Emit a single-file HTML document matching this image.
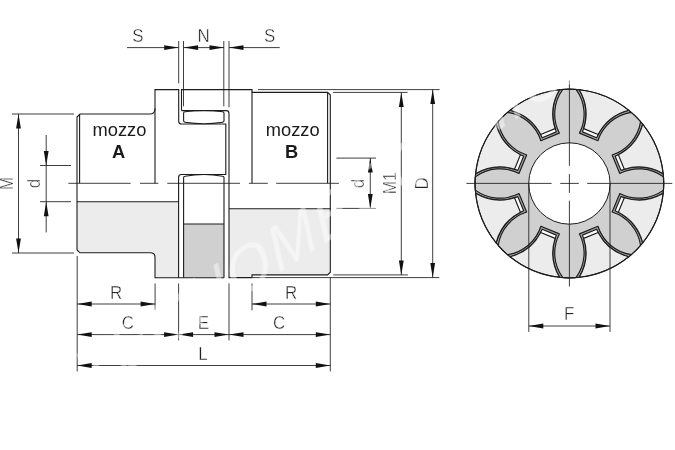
<!DOCTYPE html>
<html><head><meta charset="utf-8"><title>Giunto</title>
<style>
html,body{margin:0;padding:0;background:#fff;}
body{width:675px;height:450px;overflow:hidden;}
svg{display:block;}
text{font-family:"Liberation Sans",sans-serif;fill:#222;}
.dim{font-size:18.2px;stroke:#fff;stroke-width:0.42px;}
.lbl{font-size:18.3px;fill:#1a1a1a;}
.b{font-weight:bold;}
.o{fill:none;stroke:#1c1c1c;stroke-width:1.1;}
.t{fill:none;stroke:#1c1c1c;stroke-width:0.85;}
.ar{fill:#111;stroke:none;}
</style></head><body>
<svg width="675" height="450" viewBox="0 0 675 450">
<rect width="675" height="450" fill="#fff"/>
<!-- ===== section view fills ===== -->
<path d="M77,201.8 H178.6 V277.7 H155 V257.3 Q155,252.8 150.5,252.8 H80 L77,250 Z" fill="#ececec"/>
<path d="M229,208.7 H330.3 V272.2 L327.6,274.9 H252 V277.6 H229 Z" fill="#ececec"/>
<rect x="183.6" y="224" width="40.4" height="53.7" fill="#d0d0d0"/>
<!-- ===== section view outlines ===== -->
<g class="o">
<!-- hub A -->
<path d="M77,250 V117 L80,114 H150 Q155,114 155,108.5"/>
<path d="M79.6,114 V183.3"/>
<path d="M155,183.3 V89.6 H178.7 V121.2 Q178.7,124 181.5,124 H225.8 V174.5 H181.4 Q178.6,174.5 178.6,177.3 V277.7"/>
<path d="M77,201.8 H178.6"/>
<path d="M77,250 L80,252.8 H150.5 Q155,252.8 155,257.3 V277.7 H224"/>
<!-- spider -->
<path d="M183.6,113.2 Q183.6,112 185,111.8 Q204,109.2 222.6,111.8 Q224,112 224,113.2 V120.8 Q224,122 222.6,122.2 Q204,125.2 185,122.2 Q183.6,122 183.6,120.8 Z" fill="#fff"/>
<path d="M183.6,277.7 V177.6 Q183.6,176.5 185,176.3 Q204,172.8 222.6,176.3 Q224,176.5 224,177.6 V277.7"/>
<path d="M183.6,224 H224"/>
<!-- hub B -->
<path d="M181.5,110.6 V89.6 H252 V92.4"/>
<path d="M181.5,110.6 H226.3 Q229,110.6 229,113.4 V277.6 H252"/>
<path d="M252,183.3 V92.4 H327.6 L330.3,95.1 V272.2 L327.6,274.9 H252 V277.6"/>
<path d="M327.6,92.4 V183.3"/>
<path d="M229,208.7 H330.3"/>
</g>
<!-- ===== thin lines: centre lines, extension & dimension lines ===== -->
<g class="t">
<!-- centre line section -->
<path d="M68.4,183.3 H130.7 M140,183.3 H158.4 M167.3,183.3 H240 M248.9,183.3 H267.8 M276.2,183.3 H338.9"/>
<!-- S N S -->
<path d="M178.7,41 V83.3 M183.5,41 V106.3 M223.8,41 V106.3 M229,41 V107.3"/>
<path d="M127,47.6 H178.7 M183.6,47.6 H224 M229,47.6 H279.7"/>
<!-- M -->
<path d="M12,114 H74 M12,253 H74 M18.5,114 V253"/>
<!-- d left -->
<path d="M40,165.5 H71 M40,201.7 H71 M46.2,135 V232.4"/>
<!-- d right -->
<path d="M336.4,158.1 H376 M336.4,208.4 H376 M370.3,158.1 V208.4"/>
<!-- M1 -->
<path d="M333,92.4 H407.6 M333.3,274.9 H407.8 M401.3,92.4 V274.9"/>
<!-- D -->
<path d="M258,89.6 H439.6 M252,277.6 H439.3 M432.7,89.6 V277.6"/>
<!-- bottom ext lines -->
<path d="M77.2,256 V371.5 M155.1,283.5 V310.2 M178.6,283.5 V340.4 M229,283.5 V340.4 M252,283.5 V310.2 M330.3,277.6 V371.5"/>
<path d="M77.2,304 H155.1 M252,304 H330.3 M77.2,334.6 H330.3 M77.2,365.5 H330.3"/>
</g>
<!-- ===== face view ===== -->
<circle cx="569.4" cy="183.5" r="94.3" fill="#fff" stroke="none"/>
<path d="M559.53,89.72 A94.3,94.3 0 0 1 579.27,89.72 A48.0,48.0 0 0 1 582.53,131.90 L596.61,137.73 A48.0,48.0 0 0 1 628.73,110.20 A94.3,94.3 0 0 1 642.70,124.17 A48.0,48.0 0 0 1 615.17,156.29 L621.00,170.37 A48.0,48.0 0 0 1 663.18,173.63 A94.3,94.3 0 0 1 663.18,193.37 A48.0,48.0 0 0 1 621.00,196.63 L615.17,210.71 A48.0,48.0 0 0 1 642.70,242.83 A94.3,94.3 0 0 1 628.73,256.80 A48.0,48.0 0 0 1 596.61,229.27 L582.53,235.10 A48.0,48.0 0 0 1 579.27,277.28 A94.3,94.3 0 0 1 559.53,277.28 A48.0,48.0 0 0 1 556.27,235.10 L542.19,229.27 A48.0,48.0 0 0 1 510.07,256.80 A94.3,94.3 0 0 1 496.10,242.83 A48.0,48.0 0 0 1 523.63,210.71 L517.80,196.63 A48.0,48.0 0 0 1 475.62,193.37 A94.3,94.3 0 0 1 475.62,173.63 A48.0,48.0 0 0 1 517.80,170.37 L523.63,156.29 A48.0,48.0 0 0 1 496.10,124.17 A94.3,94.3 0 0 1 510.07,110.20 A48.0,48.0 0 0 1 542.19,137.73 L556.27,131.90 A48.0,48.0 0 0 1 559.53,89.72 Z" fill="#a0a0a0" stroke="#1c1c1c" stroke-width="1.15" stroke-linejoin="round"/>
<path d="M562.79,89.43 A94.3,94.3 0 0 1 576.01,89.43 A41.6,41.6 0 0 1 579.46,133.11 L597.92,140.76 A41.6,41.6 0 0 1 631.24,112.31 A94.3,94.3 0 0 1 640.59,121.66 A41.6,41.6 0 0 1 612.14,154.98 L619.79,173.44 A41.6,41.6 0 0 1 663.47,176.89 A94.3,94.3 0 0 1 663.47,190.11 A41.6,41.6 0 0 1 619.79,193.56 L612.14,212.02 A41.6,41.6 0 0 1 640.59,245.34 A94.3,94.3 0 0 1 631.24,254.69 A41.6,41.6 0 0 1 597.92,226.24 L579.46,233.89 A41.6,41.6 0 0 1 576.01,277.57 A94.3,94.3 0 0 1 562.79,277.57 A41.6,41.6 0 0 1 559.34,233.89 L540.88,226.24 A41.6,41.6 0 0 1 507.56,254.69 A94.3,94.3 0 0 1 498.21,245.34 A41.6,41.6 0 0 1 526.66,212.02 L519.01,193.56 A41.6,41.6 0 0 1 475.33,190.11 A94.3,94.3 0 0 1 475.33,176.89 A41.6,41.6 0 0 1 519.01,173.44 L526.66,154.98 A41.6,41.6 0 0 1 498.21,121.66 A94.3,94.3 0 0 1 507.56,112.31 A41.6,41.6 0 0 1 540.88,140.76 L559.34,133.11 A41.6,41.6 0 0 1 562.79,89.43 Z" fill="#d0d0d0" stroke="#1c1c1c" stroke-width="1.15" stroke-linejoin="round"/>
<path d="M579.27,89.72 A48.0,48.0 0 0 1 583.71,128.60 L598.11,134.56 A48.0,48.0 0 0 1 628.73,110.20 A94.3,94.3 0 0 0 579.27,89.72 Z" fill="#ececec" stroke="#1c1c1c" stroke-width="1.15" stroke-linejoin="round"/>
<path d="M642.70,124.17 A48.0,48.0 0 0 1 618.34,154.79 L624.30,169.19 A48.0,48.0 0 0 1 663.18,173.63 A94.3,94.3 0 0 0 642.70,124.17 Z" fill="#ececec" stroke="#1c1c1c" stroke-width="1.15" stroke-linejoin="round"/>
<path d="M663.18,193.37 A48.0,48.0 0 0 1 624.30,197.81 L618.34,212.21 A48.0,48.0 0 0 1 642.70,242.83 A94.3,94.3 0 0 0 663.18,193.37 Z" fill="#ececec" stroke="#1c1c1c" stroke-width="1.15" stroke-linejoin="round"/>
<path d="M628.73,256.80 A48.0,48.0 0 0 1 598.11,232.44 L583.71,238.40 A48.0,48.0 0 0 1 579.27,277.28 A94.3,94.3 0 0 0 628.73,256.80 Z" fill="#ececec" stroke="#1c1c1c" stroke-width="1.15" stroke-linejoin="round"/>
<path d="M559.53,277.28 A48.0,48.0 0 0 1 555.09,238.40 L540.69,232.44 A48.0,48.0 0 0 1 510.07,256.80 A94.3,94.3 0 0 0 559.53,277.28 Z" fill="#ececec" stroke="#1c1c1c" stroke-width="1.15" stroke-linejoin="round"/>
<path d="M496.10,242.83 A48.0,48.0 0 0 1 520.46,212.21 L514.50,197.81 A48.0,48.0 0 0 1 475.62,193.37 A94.3,94.3 0 0 0 496.10,242.83 Z" fill="#ececec" stroke="#1c1c1c" stroke-width="1.15" stroke-linejoin="round"/>
<path d="M475.62,173.63 A48.0,48.0 0 0 1 514.50,169.19 L520.46,154.79 A48.0,48.0 0 0 1 496.10,124.17 A94.3,94.3 0 0 0 475.62,173.63 Z" fill="#ececec" stroke="#1c1c1c" stroke-width="1.15" stroke-linejoin="round"/>
<path d="M510.07,110.20 A48.0,48.0 0 0 1 540.69,134.56 L555.09,128.60 A48.0,48.0 0 0 1 559.53,89.72 A94.3,94.3 0 0 0 510.07,110.20 Z" fill="#ececec" stroke="#1c1c1c" stroke-width="1.15" stroke-linejoin="round"/>
<circle cx="569.4" cy="183.5" r="94.3" fill="none" stroke="#1c1c1c" stroke-width="1"/>
<circle cx="569.4" cy="183.5" r="40.7" fill="#fff" stroke="#1c1c1c" stroke-width="1"/>
<g class="t">
<path d="M466.4,183.4 H551.6 M560.2,183.4 H578.8 M587.2,183.4 H672.3"/>
<path d="M569.4,80.4 V165.8 M569.4,174 V192.9 M569.4,200.7 V286.5"/>
<path d="M528.8,183.4 V331.9 M610,183.4 V331.9 M528.8,326 H610"/>
</g>
<!-- ===== arrows ===== -->
<g class="ar">
<!-- S/N -->
<path d="M178.7,47.6 l-14.5,-2.3 v4.6z M229,47.6 l14.5,-2.3 v4.6z M183.6,47.6 l14.5,-2.3 v4.6z M224,47.6 l-14.5,-2.3 v4.6z"/>
<!-- M -->
<path d="M18.5,114 l-2.4,14.5 h4.8z M18.5,253 l-2.4,-14.5 h4.8z"/>
<!-- d left -->
<path d="M46.2,165.5 l-2.4,-14.5 h4.8z M46.2,201.7 l-2.4,14.5 h4.8z"/>
<!-- d right -->
<path d="M370.3,158.1 l-2.4,14.5 h4.8z M370.3,208.4 l-2.4,-14.5 h4.8z"/>
<!-- M1, D -->
<path d="M401.3,92.4 l-2.4,14.5 h4.8z M401.3,274.9 l-2.4,-14.5 h4.8z M432.7,89.6 l-2.4,14.5 h4.8z M432.7,277.6 l-2.4,-14.5 h4.8z"/>
<!-- R left/right -->
<path d="M77.2,304 l14.5,-2.4 v4.8z M155.1,304 l-14.5,-2.4 v4.8z M252,304 l14.5,-2.4 v4.8z M330.3,304 l-14.5,-2.4 v4.8z"/>
<!-- C / E -->
<path d="M77.2,334.6 l14.5,-2.4 v4.8z M178.6,334.6 l-14.5,-2.4 v4.8z M178.6,334.6 l14.5,-2.4 v4.8z M229,334.6 l-14.5,-2.4 v4.8z M229,334.6 l14.5,-2.4 v4.8z M330.3,334.6 l-14.5,-2.4 v4.8z"/>
<!-- L -->
<path d="M77.2,365.5 l14.5,-2.4 v4.8z M330.3,365.5 l-14.5,-2.4 v4.8z"/>
<!-- F -->
<path d="M528.8,326 l14.5,-2.4 v4.8z M610,326 l-14.5,-2.4 v4.8z"/>
</g>
<!-- ===== text ===== -->
<g text-anchor="middle" opacity="0.999">
<text class="dim" transform="translate(138,41.9) scale(0.93,1)">S</text>
<text class="dim" transform="translate(203.7,41.9) scale(0.93,1)">N</text>
<text class="dim" transform="translate(269.6,41.9) scale(0.93,1)">S</text>
<text class="lbl" x="119.5" y="136">mozzo</text>
<text class="lbl b" x="118.5" y="158.3">A</text>
<text class="lbl" x="292.7" y="136">mozzo</text>
<text class="lbl b" x="291.6" y="158.3">B</text>
<text class="dim" transform="translate(13,183.5) rotate(-90) scale(0.86,1)">M</text>
<text class="dim" transform="translate(40,183.5) rotate(-90) scale(0.93,1)">d</text>
<text class="dim" transform="translate(364.3,183.5) rotate(-90) scale(0.93,1)">d</text>
<text class="dim" transform="translate(396.4,183.2) rotate(-90) scale(0.88,1)">M1</text>
<text class="dim" transform="translate(427.5,183.5) rotate(-90) scale(0.93,1)">D</text>
<text class="dim" transform="translate(116,298.7) scale(0.93,1)">R</text>
<text class="dim" transform="translate(291,298.7) scale(0.93,1)">R</text>
<text class="dim" transform="translate(127.8,329.3) scale(0.93,1)">C</text>
<text class="dim" transform="translate(203.4,329.3) scale(0.93,1)">E</text>
<text class="dim" transform="translate(279.2,329.3) scale(0.93,1)">C</text>
<text class="dim" transform="translate(202.9,359.9) scale(0.93,1)">L</text>
<text class="dim" transform="translate(569.2,319.8) scale(0.93,1)">F</text>
</g>
<!-- watermark -->
<text transform="translate(88,397) rotate(-33) skewX(-10)" font-size="62" font-style="italic" style="fill:#fff;fill-opacity:0.45;letter-spacing:2px">TECNOMECCANICA</text>
</svg>
</body></html>
